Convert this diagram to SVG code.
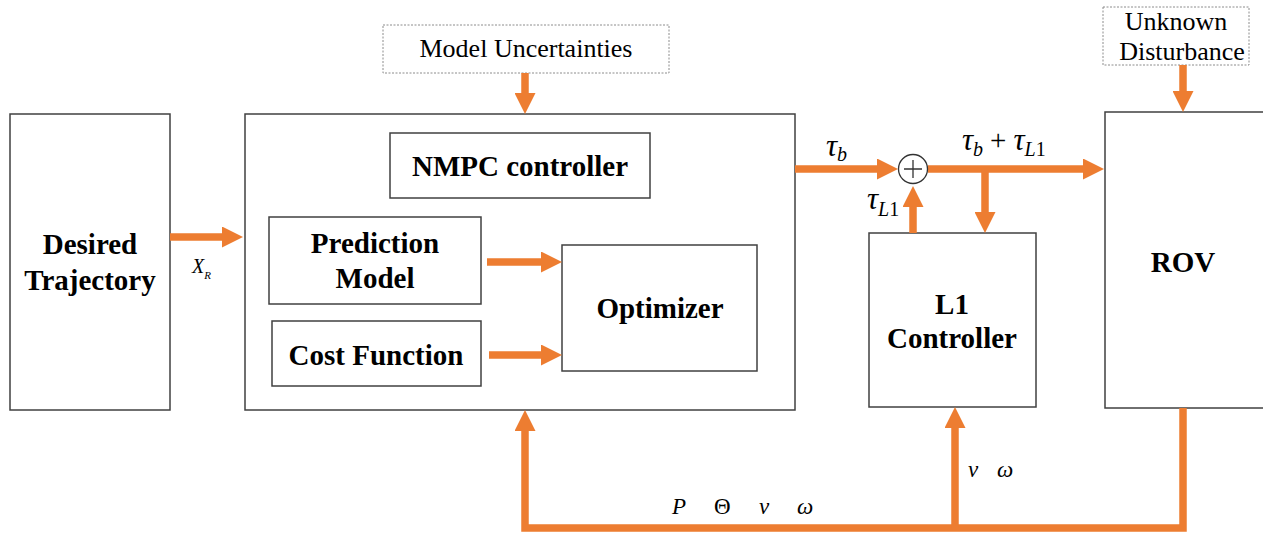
<svg xmlns="http://www.w3.org/2000/svg" width="1263" height="533" viewBox="0 0 1263 533">
  <style>
    .box { fill: #ffffff; stroke: #404040; stroke-width: 1.5; }
    .note { fill: #ffffff; stroke: #8c8c8c; stroke-width: 1; stroke-dasharray: 2 1.5; }
    text { font-family: 'Liberation Serif', 'Times New Roman', serif; fill: #000; }
    .lbl { font-weight: bold; font-size: 29px; text-anchor: middle; }
    .ntxt { font-size: 26px; text-anchor: middle; }
    .math { font-style: italic; }
    .up { font-style: normal; }
    .wire { fill: none; stroke: #ED7D31; stroke-width: 7.5; }
    .arrow { marker-end: url(#head); }
  </style>
  <defs>
    <marker id="head" markerUnits="userSpaceOnUse" viewBox="0 0 21 21" refX="1" refY="10.5" markerWidth="21" markerHeight="21" orient="auto">
      <path d="M0,0 L21,10.5 L0,21 Z" fill="#ED7D31"/>
    </marker>
  </defs>

  <!-- disturbance inputs -->
  <g id="model-uncertainties">
    <rect class="note" x="383" y="25" width="286" height="48"/>
    <text class="ntxt" x="526" y="57">Model Uncertainties</text>
  </g>
  <g id="unknown-disturbance">
    <rect class="note" x="1103" y="7" width="146" height="58"/>
    <text class="ntxt" x="1176" y="30">Unknown</text>
    <text class="ntxt" x="1182" y="60">Disturbance</text>
  </g>

  <!-- reference generator -->
  <g id="desired-trajectory">
    <rect class="box" x="10" y="114" width="160" height="296"/>
    <text class="lbl" x="90" y="254">Desired</text>
    <text class="lbl" x="90" y="290">Trajectory</text>
  </g>

  <!-- NMPC block with its inner parts -->
  <g id="nmpc">
    <rect class="box" x="245" y="114" width="550" height="296"/>
  </g>
  <g id="nmpc-controller">
    <rect class="box" x="390" y="133" width="260" height="65"/>
    <text class="lbl" x="520" y="176">NMPC controller</text>
  </g>
  <g id="prediction-model">
    <rect class="box" x="269" y="217" width="212" height="87"/>
    <text class="lbl" x="375" y="253">Prediction</text>
    <text class="lbl" x="375" y="288">Model</text>
  </g>
  <g id="cost-function">
    <rect class="box" x="272" y="321" width="209" height="65"/>
    <text class="lbl" x="376" y="365">Cost Function</text>
  </g>
  <g id="optimizer">
    <rect class="box" x="562" y="245" width="195" height="126"/>
    <text class="lbl" x="660" y="318">Optimizer</text>
  </g>

  <g id="l1-controller">
    <rect class="box" x="869" y="233" width="167" height="174"/>
    <text class="lbl" x="952" y="314">L1</text>
    <text class="lbl" x="952" y="348">Controller</text>
  </g>

  <g id="rov">
    <rect class="box" x="1105" y="112" width="170" height="296"/>
    <text class="lbl" x="1183" y="272">ROV</text>
  </g>

  <!-- connectors -->
  <g id="connectors">
    <line class="wire arrow" x1="525" y1="73" x2="525" y2="94"/>
    <line class="wire arrow" x1="1183" y1="65" x2="1183" y2="92"/>
    <line class="wire arrow" x1="170" y1="237" x2="223" y2="237"/>
    <line class="wire arrow" x1="487" y1="262" x2="542" y2="262"/>
    <line class="wire arrow" x1="489" y1="355" x2="542" y2="355"/>
    <line class="wire arrow" x1="795" y1="169" x2="878" y2="169"/>
    <line class="wire arrow" x1="928" y1="169" x2="1084" y2="169"/>
    <line class="wire arrow" x1="985" y1="169" x2="985" y2="213"/>
    <line class="wire arrow" x1="913" y1="233" x2="913" y2="206"/>
    <path class="wire arrow" d="M1183,408 V528 H525 V430"/>
    <line class="wire arrow" x1="955" y1="528" x2="955" y2="427"/>
  </g>

  <!-- summing junction -->
  <g id="sum">
    <circle cx="913" cy="169" r="14.5" fill="#fff" stroke="#333" stroke-width="1.3"/>
    <path d="M904,169 H922 M913,160 V178" stroke="#333" stroke-width="1.3"/>
  </g>

  <!-- signal labels -->
  <g id="labels">
    <text class="math" x="192" y="273" font-size="20">X<tspan font-size="11" dy="6">R</tspan></text>
    <text class="math" x="826" y="156" font-size="31">τ<tspan font-size="20" dy="5">b</tspan></text>
    <text class="math" x="962" y="150" font-size="31">τ<tspan font-size="20" dy="6">b</tspan><tspan class="up" font-size="29" dy="-6" dx="7">+</tspan><tspan font-size="31" dx="7">τ</tspan><tspan font-size="20" dy="6">L</tspan><tspan class="up" font-size="20">1</tspan></text>
    <text class="math" x="867" y="209" font-size="31">τ<tspan font-size="20" dy="7">L</tspan><tspan class="up" font-size="20">1</tspan></text>
    <text class="math" x="672" y="514" font-size="23">P</text>
    <text class="math up" x="714" y="514" font-size="23">Θ</text>
    <text class="math" x="759" y="514" font-size="23">v</text>
    <text class="math" x="797" y="514" font-size="23">ω</text>
    <text class="math" x="968" y="477" font-size="23">v</text>
    <text class="math" x="997" y="477" font-size="23">ω</text>
  </g>
</svg>
